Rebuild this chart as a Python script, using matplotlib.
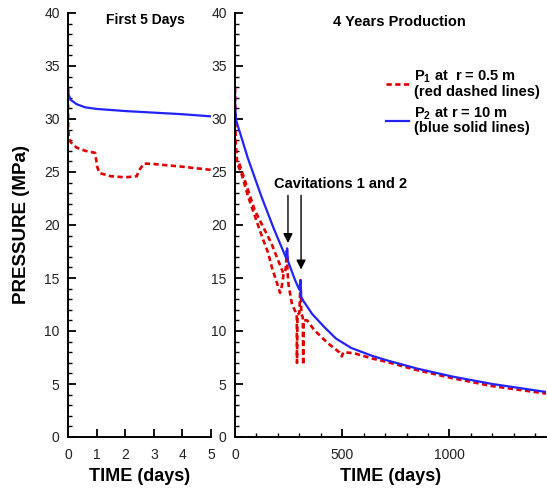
import matplotlib
matplotlib.use("Agg")
import matplotlib.pyplot as plt
from matplotlib.ticker import MultipleLocator

plt.rcParams["font.family"] = ["Liberation Sans", "DejaVu Sans"]
plt.rcParams["mathtext.fontset"] = "custom"
plt.rcParams["mathtext.bf"] = "Liberation Sans:bold"
plt.rcParams["mathtext.rm"] = "Liberation Sans:bold"
plt.rcParams["mathtext.default"] = "bf"

# first 5 days (days, MPa)
short_t_p1 = [0, 0.005, 0.03, 0.1, 0.3, 0.6, 0.95, 1.02, 1.1, 1.5, 2.0, 2.4, 2.5, 2.65, 3.0, 4.0, 5.0]
short_p1 = [33.0, 29.5, 28.2, 27.8, 27.3, 27.0, 26.8, 25.5, 24.9, 24.6, 24.5, 24.6, 25.2, 25.8, 25.75, 25.5, 25.2]
short_t_p2 = [0, 0.02, 0.1, 0.3, 0.6, 1.0, 2.0, 3.0, 4.0, 5.0]
short_p2 = [33.0, 32.3, 31.8, 31.4, 31.1, 30.95, 30.75, 30.6, 30.45, 30.25]

# 4 years production (days, MPa)
long_t_p1 = [0, 3, 10, 28, 61, 126, 154, 172, 196, 210, 218, 226, 236, 242, 245, 250, 266, 280,
             288, 289, 291, 300, 306, 309, 316, 318, 320, 337, 369, 430, 486, 498, 505, 556, 640,
             705, 850, 1014, 1200, 1450]
long_p1 = [33.0, 28.0, 25.8, 25.0, 22.7, 18.9, 17.4, 16.0, 14.5, 13.6, 14.2, 15.3, 15.8, 17.6, 15.5,
           14.3, 12.5, 11.9, 11.6, 7.0, 11.5, 11.7, 14.8, 11.6, 11.3, 6.8, 11.0, 11.0, 10.1, 8.9,
           8.0, 7.6, 8.0, 7.9, 7.4, 7.1, 6.3, 5.55, 4.8, 4.1]
# second P1 branch before the first cavitation
long_t_p1b = [20, 28, 92, 169, 224]
long_p1b = [25.8, 25.3, 21.4, 18.3, 15.5]
long_t_p2 = [0, 1, 5, 60, 123, 180, 236, 240, 243, 247, 280, 300, 305, 309, 320, 340, 360, 415,
             470, 542, 640, 705, 850, 1014, 1200, 1450]
long_p2 = [33.0, 31.1, 29.9, 26.3, 22.7, 19.7, 17.0, 16.9, 17.8, 16.6, 14.8, 13.9, 14.8, 13.2,
           12.8, 12.2, 11.6, 10.4, 9.3, 8.4, 7.65, 7.25, 6.45, 5.7, 5.0, 4.25]

cavitation_days = [247, 308]
cavitation_tips = [18.3, 15.8]

red = "#e00000"
blue = "#2323ff"
red_style = (0, (2, 1.3))

fig = plt.figure(figsize=(5.47, 4.88), dpi=100)
ax1 = fig.add_axes([68 / 547, 51 / 488, 143 / 547, 424 / 488])
ax2 = fig.add_axes([235 / 547, 51 / 488, 311 / 547, 424 / 488])

ax1.plot(short_t_p2, short_p2, color=blue, linewidth=1.6)
ax1.plot(short_t_p1, short_p1, color=red, linewidth=1.9, linestyle=red_style)

ax2.plot(long_t_p1, long_p1, color=red, linewidth=1.9, linestyle=red_style,
         label="P$_1$ at  r = 0.5 m\n(red dashed lines)")
ax2.plot(long_t_p1b, long_p1b, color=red, linewidth=1.9, linestyle=red_style)
ax2.plot(long_t_p2, long_p2, color=blue, linewidth=1.6,
         label="P$_2$ at r = 10 m\n(blue solid lines)")

for ax in (ax1, ax2):
    ax.set_ylim(0, 40)
    ax.yaxis.set_major_locator(MultipleLocator(5))
    ax.yaxis.set_minor_locator(MultipleLocator(1))
    for side in ("top", "right"):
        ax.spines[side].set_visible(False)
    for side in ("left", "bottom"):
        ax.spines[side].set_linewidth(1.4)
    ax.tick_params(which="major", direction="in", length=6, width=1.3,
                   labelsize=10, labelcolor="#222222", pad=6)
    ax.tick_params(axis="x", which="major", pad=8)
    ax.tick_params(which="minor", direction="in", length=3, width=1.0)
    ax.set_xlabel("TIME (days)", fontsize=13, fontweight="bold", labelpad=4)

ax1.set_xlim(0, 5)
ax1.xaxis.set_major_locator(MultipleLocator(1))
ax1.set_ylabel("PRESSURE (MPa)", fontsize=13.5, fontweight="bold", labelpad=10)
ax1.text(0.54, 0.983, "First 5 Days", transform=ax1.transAxes, ha="center", va="center",
         fontsize=10, fontweight="bold")

ax2.set_xlim(0, 1450)
ax2.xaxis.set_major_locator(MultipleLocator(500))
ax2.xaxis.set_minor_locator(MultipleLocator(100))
ax2.text(0.53, 0.979, "4 Years Production", transform=ax2.transAxes, ha="center", va="center",
         fontsize=10.5, fontweight="bold")

ax2.text(490, 23.9, "Cavitations 1 and 2", ha="center", va="center", fontsize=10.5,
         fontweight="bold")
for day, tip in zip(cavitation_days, cavitation_tips):
    ax2.annotate("", xy=(day, tip), xytext=(day, 22.8),
                 arrowprops=dict(arrowstyle="-|>", color="black", linewidth=1.0,
                                 mutation_scale=14, shrinkA=0, shrinkB=0))

leg = ax2.legend(loc="upper left", bbox_to_anchor=(0.466, 0.882), frameon=False,
                 prop={"weight": "bold", "size": 10.5}, handlelength=1.6, handletextpad=0.35,
                 labelspacing=0.45, borderaxespad=0)
for txt in leg.get_texts():
    txt.set_linespacing(0.95)

fig.savefig("out.png", dpi=100)
